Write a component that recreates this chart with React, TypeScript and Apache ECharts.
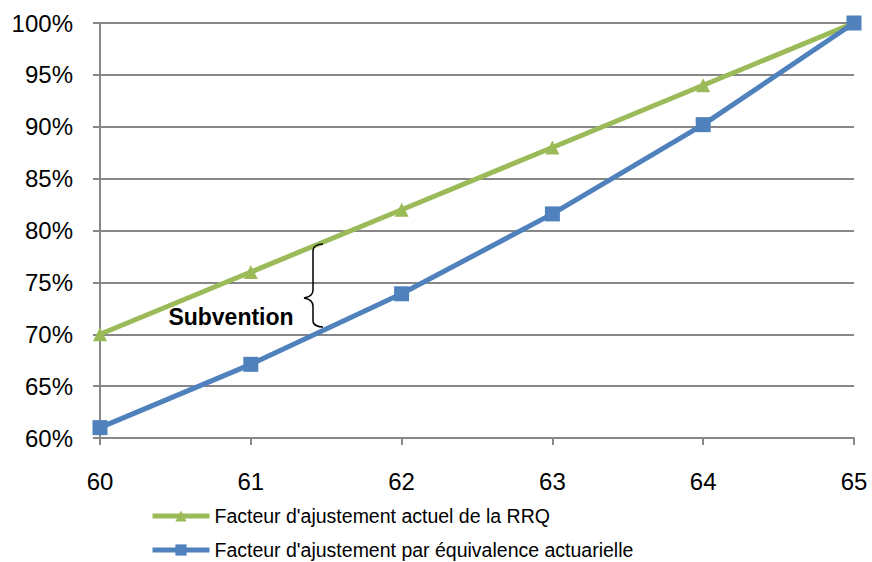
import React, { useEffect, useRef } from "react";
import * as echarts from "echarts";

const ages = ["60", "61", "62", "63", "64", "65"];
const rrqFactor = [70, 76, 82, 88, 94, 100];
const actuarialFactor = [61.0, 67.1, 73.9, 81.6, 90.2, 100];
const seriesNames = [
  "Facteur d'ajustement actuel de la RRQ",
  "Facteur d'ajustement par équivalence actuarielle",
];
const annotationText = "Subvention";

echarts.graphic.registerShape(
  "brace",
  echarts.graphic.extendPath(
    "M19 0 C14 0 9 2 9 7 L9 46 C9 51 6 53 0 54 C6 55 9 57 9 62 L9 77 C9 81 14 83 19 83",
    {}
  )
);

export default function App() {
  const ref = useRef<HTMLDivElement>(null);
  useEffect(() => {
    if (!ref.current) return;
    const chart = echarts.init(ref.current, null, { renderer: "svg" });
    const font = "'Liberation Sans', Arial, sans-serif";
    const legendCommon = {
      orient: "horizontal",
      left: 150,
      padding: 0,
      itemWidth: 57,
      itemHeight: 14,
      lineStyle: { width: 5 },
      textStyle: { color: "#000", fontSize: 19.5, fontFamily: font },
    };
    chart.setOption({
      animation: false,
      backgroundColor: "#ffffff",
      grid: { left: 100, right: 18, top: 23, bottom: 124, containLabel: false },
      xAxis: {
        type: "category",
        data: ages,
        boundaryGap: false,
        axisLine: { lineStyle: { color: "#878787", width: 2 } },
        axisTick: { show: true, length: 7, alignWithLabel: true, lineStyle: { color: "#878787", width: 2 } },
        axisLabel: { color: "#000", fontSize: 24, fontFamily: font, margin: 31 },
        splitLine: { show: false },
      },
      yAxis: {
        type: "value",
        min: 60,
        max: 100,
        interval: 5,
        axisLine: { show: true, lineStyle: { color: "#878787", width: 2 } },
        axisTick: { show: true, length: 7, lineStyle: { color: "#878787", width: 2 } },
        axisLabel: {
          color: "#000",
          fontSize: 24,
          fontFamily: font,
          margin: 27,
          formatter: (v: number) => v + "%",
        },
        splitLine: { show: true, lineStyle: { color: "#878787", width: 2 } },
      },
      legend: [
        { ...legendCommon, top: 506, data: [seriesNames[0]] },
        { ...legendCommon, top: 540, data: [seriesNames[1]] },
      ],
      series: [
        {
          name: seriesNames[0],
          type: "line",
          data: rrqFactor,
          symbol: "triangle",
          symbolSize: 14,
          lineStyle: { color: "#9BBB59", width: 5 },
          itemStyle: { color: "#9BBB59" },
          z: 3,
        },
        {
          name: seriesNames[1],
          type: "line",
          data: actuarialFactor,
          symbol: "rect",
          symbolSize: 15,
          lineStyle: { color: "#4F81BD", width: 5 },
          itemStyle: { color: "#4F81BD" },
          z: 4,
        },
      ],
      graphic: [
        {
          type: "brace",
          x: 304,
          y: 244,
          style: { fill: "none", stroke: "#000", lineWidth: 1.5 },
          z: 10,
        },
        {
          type: "text",
          x: 231,
          y: 317,
          style: {
            text: annotationText,
            fill: "#000",
            font: `bold 23px ${font}`,
            textAlign: "center",
            textVerticalAlign: "middle",
          },
          z: 10,
        },
      ],
    });
    return () => chart.dispose();
  }, []);
  return (
    <div
      ref={ref}
      style={{ position: "fixed", left: 0, top: 0, width: 872, height: 562 }}
    />
  );
}
